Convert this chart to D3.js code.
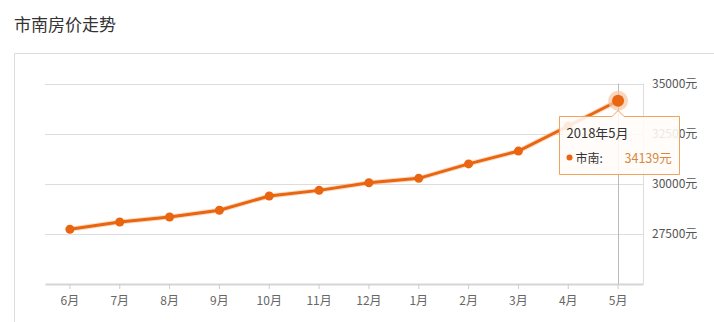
<!DOCTYPE html>
<html>
<head>
<meta charset="utf-8">
<script src="https://d3js.org/d3.v7.min.js"></script>
<style>
  body { margin: 0; background: #fff; }
  svg { display: block; font-family: "Microsoft YaHei", "Noto Sans CJK SC", sans-serif; }
</style>
</head>
<body>
<script>
const months = ['6月', '7月', '8月', '9月', '10月', '11月', '12月', '1月', '2月', '3月', '4月', '5月'];
const prices = [27730, 28090, 28340, 28680, 29390, 29670, 30050, 30270, 30990, 31630, 32880, 34139];
const yTicks = [27500, 30000, 32500, 35000];
const seriesName = '市南';
const activeLabel = '2018年5月';

const W = 714, H = 322;
const orange = '#e9650f';

const svg = d3.select('body').append('svg')
  .attr('width', W)
  .attr('height', H);

svg.append('text')
  .attr('x', 14)
  .attr('y', 31)
  .attr('font-size', 17)
  .attr('fill', '#333')
  .text('市南房价走势');

// panel border
svg.append('path')
  .attr('d', `M14.5,${H} V53.5 H${W}`)
  .attr('fill', 'none')
  .attr('stroke', '#ddd');

const x = d3.scaleBand().domain(months).range([45, 643]);
const y = d3.scaleLinear().domain([25000, 35000]).range([284, 83.5]);
const cx = d => x(d) + x.bandwidth() / 2;

// grid
svg.append('g')
  .selectAll('line')
  .data(yTicks)
  .join('line')
  .attr('x1', 45).attr('x2', 643)
  .attr('y1', d => Math.round(y(d)) + 0.5)
  .attr('y2', d => Math.round(y(d)) + 0.5)
  .attr('stroke', '#ddd');

// right border of the plot
svg.append('line')
  .attr('x1', 643.5).attr('x2', 643.5)
  .attr('y1', y(35000)).attr('y2', 284)
  .attr('stroke', '#ddd');

// y labels
svg.append('g')
  .selectAll('text')
  .data(yTicks.concat([35000]).filter((d, i, a) => a.indexOf(d) === i))
  .join('text')
  .attr('x', 652)
  .attr('y', d => y(d) + 4)
  .attr('font-size', 12)
  .attr('fill', '#555')
  .text(d => d + '元');

// x axis
const xAxis = svg.append('g')
  .attr('transform', 'translate(0,284)')
  .call(d3.axisBottom(x).tickSize(5).tickPadding(7).tickSizeOuter(0));
xAxis.select('.domain').attr('stroke', '#d5d5d5').attr('stroke-width', 2);
xAxis.selectAll('.tick line').attr('stroke', '#ccc');
xAxis.selectAll('.tick text')
  .attr('font-size', 12)
  .attr('fill', '#666')
  .attr('font-family', '"Microsoft YaHei", "Noto Sans CJK SC", sans-serif');

// crosshair
const last = months.length - 1;
svg.append('line')
  .attr('x1', Math.round(cx(months[last])) + 0.5)
  .attr('x2', Math.round(cx(months[last])) + 0.5)
  .attr('y1', y(35000)).attr('y2', 284)
  .attr('stroke', '#bbb');

// line
const line = d3.line()
  .x((d, i) => cx(months[i]))
  .y(d => y(d));

svg.append('path')
  .datum(prices)
  .attr('d', line)
  .attr('fill', 'none')
  .attr('stroke', '#f6b98c')
  .attr('stroke-width', 5)
  .attr('stroke-opacity', 0.5);

svg.append('path')
  .datum(prices)
  .attr('d', line)
  .attr('fill', 'none')
  .attr('stroke', orange)
  .attr('stroke-width', 3);

svg.append('g')
  .selectAll('circle')
  .data(prices.slice(0, last))
  .join('circle')
  .attr('cx', (d, i) => cx(months[i]))
  .attr('cy', d => y(d))
  .attr('r', 4.5)
  .attr('fill', orange);

// highlighted point
svg.append('circle')
  .attr('cx', cx(months[last]))
  .attr('cy', y(prices[last]))
  .attr('r', 10)
  .attr('fill', '#f7c6a4')
  .attr('opacity', 0.7);
svg.append('circle')
  .attr('cx', cx(months[last]))
  .attr('cy', y(prices[last]))
  .attr('r', 6)
  .attr('fill', orange);

// tooltip
const tx = 559.5, ty = 116.5, tw = 120, th = 58;
const ax = cx(months[last]);
const tip = svg.append('g');
tip.append('path')
  .attr('d', `M${tx},${ty} H${ax - 6} L${ax},${ty - 6} L${ax + 6},${ty} H${tx + tw} V${ty + th} H${tx} Z`)
  .attr('fill', 'rgba(255,252,248,0.88)')
  .attr('stroke', '#f0a35c')
  .attr('stroke-width', 1);
tip.append('text')
  .attr('x', tx + 7)
  .attr('y', ty + 21)
  .attr('font-size', 13)
  .attr('fill', '#333')
  .text(activeLabel);
tip.append('circle')
  .attr('cx', tx + 10)
  .attr('cy', ty + 41)
  .attr('r', 3)
  .attr('fill', orange);
tip.append('text')
  .attr('x', tx + 16)
  .attr('y', ty + 46)
  .attr('font-size', 12)
  .attr('fill', '#333')
  .text(seriesName + ':');
tip.append('text')
  .attr('x', tx + 65)
  .attr('y', ty + 46)
  .attr('font-size', 12.5)
  .attr('fill', '#d9893f')
  .text(prices[last] + '元');
</script>
</body>
</html>
